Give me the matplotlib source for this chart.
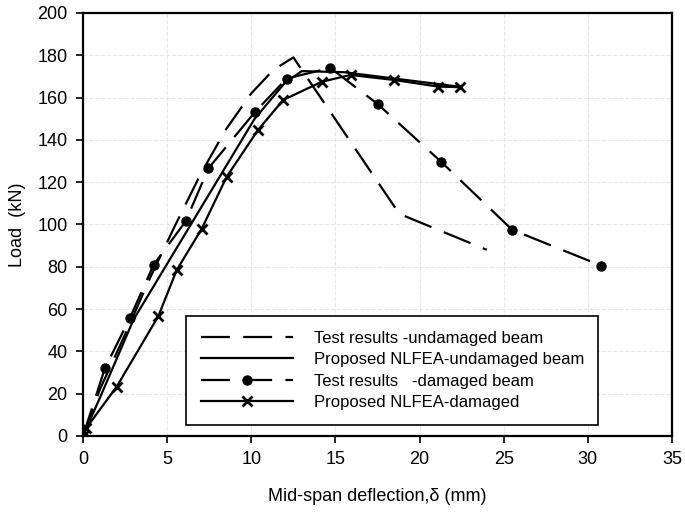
import matplotlib
matplotlib.use('Agg')
import matplotlib.pyplot as plt

plt.rcParams['font.family'] = ['Liberation Sans', 'DejaVu Sans']

# Test results - undamaged beam
test_undam_x = [0, 1, 2.5, 4, 5.5, 7, 8.5, 10, 11.3, 12.5, 18.8, 24.0]
test_undam_y = [0, 22, 48, 75, 100, 124, 145, 162, 173, 179, 105, 88]

# Proposed NLFEA - undamaged beam
fea_undam_x = [0, 1, 3, 5.5, 8, 10.2, 12, 13, 15.5, 19, 22.5]
fea_undam_y = [0, 18, 55, 88, 121, 150, 167, 172.5, 172, 168.5, 165]

# Test results - damaged beam
test_dam_x = [0, 1.3, 2.8, 4.2, 6.1, 7.45, 10.2, 12.1, 14.7, 17.5, 21.3, 25.5, 30.8]
test_dam_y = [0, 32, 56, 81, 101.5, 126.5, 153, 169, 174, 157, 129.5, 97.5, 80.5]

# Proposed NLFEA - damaged
fea_dam_x = [0, 0.2, 2.0, 4.48, 5.57, 7.05, 8.54, 10.4, 11.9, 14.2, 15.9, 18.5, 21.1, 22.4]
fea_dam_y = [0, 3.8, 23.3, 56.7, 78.5, 97.9, 122.6, 144.7, 158.9, 167.5, 170.7, 168.3, 165.2, 164.9]

fig = plt.figure(figsize=(6.85, 5.19), dpi=100)
ax = fig.add_axes([0.1212, 0.160, 0.8598, 0.815])

ax.plot(test_undam_x, test_undam_y, color='black', lw=1.6, dashes=(13, 6),
        label='Test results -undamaged beam')
ax.plot(fea_undam_x, fea_undam_y, color='black', lw=1.6,
        label='Proposed NLFEA-undamaged beam')
ax.plot(test_dam_x, test_dam_y, color='black', lw=1.6, dashes=(13, 6),
        marker='o', ms=6.5, label='Test results   -damaged beam')
ax.plot(fea_dam_x, fea_dam_y, color='black', lw=1.6, marker='x', ms=7, mew=2,
        label='Proposed NLFEA-damaged')

ax.set_xlim(0, 35)
ax.set_ylim(0, 200)
ax.set_xticks(range(0, 36, 5))
ax.set_yticks(range(0, 201, 20))
ax.grid(True, color='#e6e6e6', ls='--', lw=0.8)
ax.set_axisbelow(True)

for s in ax.spines.values():
    s.set_linewidth(1.6)
ax.tick_params(direction='out', length=5, width=1.2, labelsize=13, pad=6)

ax.set_xlabel('Mid-span deflection,δ (mm)', fontsize=13, labelpad=14)
ax.set_ylabel('Load  (kN)', fontsize=13, labelpad=8)

leg = ax.legend(loc='lower left', bbox_to_anchor=(0.175, 0.026, 0.699, 0.262),
                mode='expand', fontsize=12, frameon=True, fancybox=False,
                edgecolor='black', handlelength=5.5, handletextpad=1.3,
                borderpad=0.9, labelspacing=0.38, borderaxespad=0)
leg.get_frame().set_linewidth(1.2)
leg.get_frame().set_alpha(1)

fig.savefig('out.png', dpi=100)
